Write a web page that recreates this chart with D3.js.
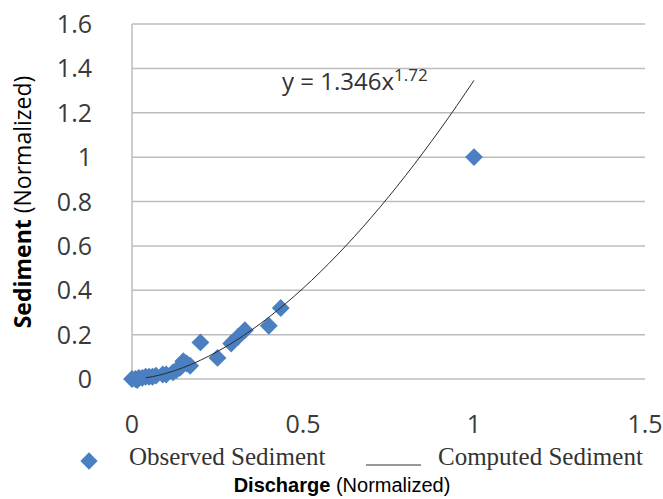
<!DOCTYPE html>
<html>
<head>
<meta charset="utf-8">
<script src="https://cdn.jsdelivr.net/npm/d3@7"></script>
<style>
  body { margin: 0; background: #fff; }
  svg { display: block; }
</style>
</head>
<body>
<svg id="chart"></svg>
<script>
/* observed points (normalized discharge / sediment) */
const discharge = [0, 0.01, 0.015, 0.02, 0.03, 0.04, 0.05, 0.06, 0.07, 0.09, 0.1, 0.12, 0.13, 0.14, 0.15, 0.16, 0.17, 0.2, 0.25, 0.29, 0.31, 0.33, 0.4, 0.435, 1];
const sediment  = [0, 0, -0.005, 0.005, 0.005, 0.01, 0.01, 0.01, 0.015, 0.02, 0.02, 0.03, 0.04, 0.05, 0.08, 0.07, 0.06, 0.165, 0.095, 0.16, 0.19, 0.22, 0.24, 0.32, 1];

/* power-law fit y = a * x^b */
const fitA = 1.346, fitB = 1.72;
const fitX = [0.04, 0.06, 0.08, 0.1, 0.15, 0.2, 0.25, 0.3, 0.35, 0.4, 0.45, 0.5, 0.55, 0.6, 0.65, 0.7, 0.75, 0.8, 0.85, 0.9, 0.95, 1];

const xTicks = [0, 0.5, 1, 1.5];
const yTicks = [0, 0.2, 0.4, 0.6, 0.8, 1, 1.2, 1.4, 1.6];

const width = 663, height = 499;
const svg = d3.select("#chart").attr("width", width).attr("height", height);

const x = d3.scaleLinear().domain([0, 1.5]).range([132, 645]);
const y = d3.scaleLinear().domain([0, 1.6]).range([379, 24]);

const tickFont = "'Open Sans', sans-serif";

/* gridlines */
svg.append("g")
  .selectAll("line")
  .data(yTicks)
  .join("line")
  .attr("x1", x(0)).attr("x2", x(1.5))
  .attr("y1", d => y(d)).attr("y2", d => y(d))
  .attr("stroke", "#bcbcbc")
  .attr("stroke-width", 1.5);

/* left axis line */
svg.append("line")
  .attr("x1", x(0)).attr("x2", x(0))
  .attr("y1", y(0)).attr("y2", y(1.6))
  .attr("stroke", "#bcbcbc")
  .attr("stroke-width", 1.5);

/* y tick labels */
svg.append("g")
  .selectAll("text")
  .data(yTicks)
  .join("text")
  .attr("x", 92)
  .attr("y", d => y(d))
  .attr("dy", "0.36em")
  .attr("text-anchor", "end")
  .attr("font-family", tickFont)
  .attr("font-size", 25)
  .attr("fill", "#3a3a3a")
  .text(d => d3.format("~g")(d));

/* x tick labels */
svg.append("g")
  .selectAll("text")
  .data(xTicks)
  .join("text")
  .attr("x", d => x(d))
  .attr("y", 433)
  .attr("text-anchor", "middle")
  .attr("font-family", tickFont)
  .attr("font-size", 25)
  .attr("fill", "#3a3a3a")
  .text(d => d3.format("~g")(d));

/* observed points */
const diamond = d3.symbol().type(d3.symbolSquare).size(160);
const points = discharge.map((d, i) => ({ q: d, s: sediment[i] }));

svg.append("g")
  .selectAll("path")
  .data(points)
  .join("path")
  .attr("d", diamond)
  .attr("transform", d => `translate(${x(d.q)},${y(d.s)}) rotate(45)`)
  .attr("fill", "#4a7fc1");

/* computed curve */
const line = d3.line()
  .x(d => x(d))
  .y(d => y(fitA * Math.pow(d, fitB)))
  .curve(d3.curveMonotoneX);

svg.append("path")
  .datum(fitX)
  .attr("fill", "none")
  .attr("stroke", "#2b2b2b")
  .attr("stroke-width", 1)
  .attr("d", line);

/* equation */
const eq = svg.append("text")
  .attr("x", 282)
  .attr("y", 90)
  .attr("font-family", tickFont)
  .attr("font-size", 24)
  .attr("fill", "#333");
eq.append("tspan").text(`y = ${fitA}x`);
eq.append("tspan").attr("dy", -9).attr("font-size", 17).text(fitB);

/* legend */
const legendFont = "'Liberation Serif', 'Times New Roman', serif";
svg.append("path")
  .attr("d", d3.symbol().type(d3.symbolSquare).size(150))
  .attr("transform", "translate(89,461) rotate(45)")
  .attr("fill", "#4a7fc1");
svg.append("text")
  .attr("x", 129).attr("y", 465)
  .attr("font-family", legendFont)
  .attr("font-size", 25)
  .attr("fill", "#333")
  .text("Observed Sediment");
svg.append("line")
  .attr("x1", 366).attr("x2", 421)
  .attr("y1", 465).attr("y2", 465)
  .attr("stroke", "#333")
  .attr("stroke-width", 1);
svg.append("text")
  .attr("x", 438).attr("y", 465)
  .attr("font-family", legendFont)
  .attr("font-size", 25)
  .attr("fill", "#333")
  .text("Computed Sediment");

/* x axis title */
const xt = svg.append("text")
  .attr("x", 342).attr("y", 492)
  .attr("text-anchor", "middle")
  .attr("font-family", "'Liberation Sans', Arial, sans-serif")
  .attr("font-size", 20)
  .attr("fill", "#000");
xt.append("tspan").attr("font-weight", "bold").text("Discharge");
xt.append("tspan").text(" (Normalized)");

/* y axis title */
const yt = svg.append("text")
  .attr("transform", "translate(31,202) rotate(-90)")
  .attr("text-anchor", "middle")
  .attr("font-family", tickFont)
  .attr("font-size", 23)
  .attr("fill", "#000");
yt.append("tspan").attr("font-weight", "bold").text("Sediment");
yt.append("tspan").text(" (Normalized)");
</script>
</body>
</html>
